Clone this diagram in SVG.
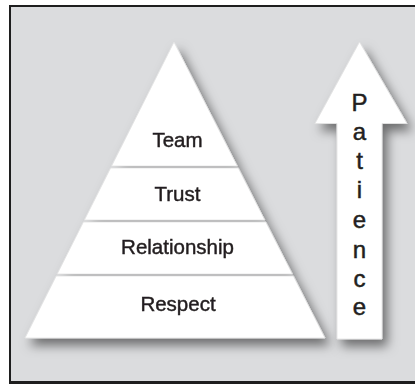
<svg xmlns="http://www.w3.org/2000/svg" width="415" height="384" viewBox="0 0 415 384">
<style>
.tier{fill:#ffffff;stroke:#e2e2e2;stroke-width:0.8}
.lbl{font-family:"Liberation Sans",Arial,sans-serif;font-size:20.5px;fill:#231f20;stroke:#231f20;stroke-width:0.45;text-anchor:middle}
.plbl{font-family:"Liberation Sans",Arial,sans-serif;font-size:24px;fill:#231f20;stroke:#231f20;stroke-width:0.5;text-anchor:middle}
</style>
<defs>
<filter id="sh" x="-20%" y="-20%" width="150%" height="150%">
<feDropShadow dx="5" dy="7" stdDeviation="5.5" flood-color="#000" flood-opacity="0.5"/>
</filter>
</defs>
<rect x="0" y="0" width="415" height="384" fill="#ffffff"/>
<rect x="10" y="6" width="405" height="378" fill="#dbdcde"/>
<g id="frame" stroke="#1e1e1e" fill="none">
<line x1="9" y1="6" x2="415" y2="6" stroke-width="2"/>
<line x1="10" y1="5" x2="10" y2="384" stroke-width="2"/>
<line x1="9" y1="382.5" x2="415" y2="382.5" stroke-width="3"/>
</g>
<g id="pyramid" filter="url(#sh)">
<g id="team">
<polygon class="tier" points="174,42 237.3,166 111.6,166"/>
<text class="lbl" x="177.5" y="147">Team</text>
</g>
<g id="trust">
<polygon class="tier" points="110.6,168 238.3,168 264.8,220 84.4,220"/>
<text class="lbl" x="177.5" y="200.5">Trust</text>
</g>
<g id="relationship">
<polygon class="tier" points="83.4,222 265.8,222 292.4,274 57.2,274"/>
<text class="lbl" x="177.5" y="254">Relationship</text>
</g>
<g id="respect">
<polygon class="tier" points="56.2,276 293.4,276 325,338 25,338"/>
<text class="lbl" x="178" y="311">Respect</text>
</g>
</g>
<g id="connectors"></g>
<g id="patience">
<polygon class="tier" filter="url(#sh)" points="359.5,42 407,123.5 382,123.5 382,339 337,339 337,123.5 315,123.5"/>
<text class="plbl" x="359.5" y="111">P</text>
<text class="plbl" x="359.5" y="140">a</text>
<text class="plbl" x="359.5" y="169">t</text>
<text class="plbl" x="359.5" y="198">i</text>
<text class="plbl" x="359.5" y="228">e</text>
<text class="plbl" x="359.5" y="258">n</text>
<text class="plbl" x="359.5" y="287">c</text>
<text class="plbl" x="359.5" y="315">e</text>
</g>
</svg>
